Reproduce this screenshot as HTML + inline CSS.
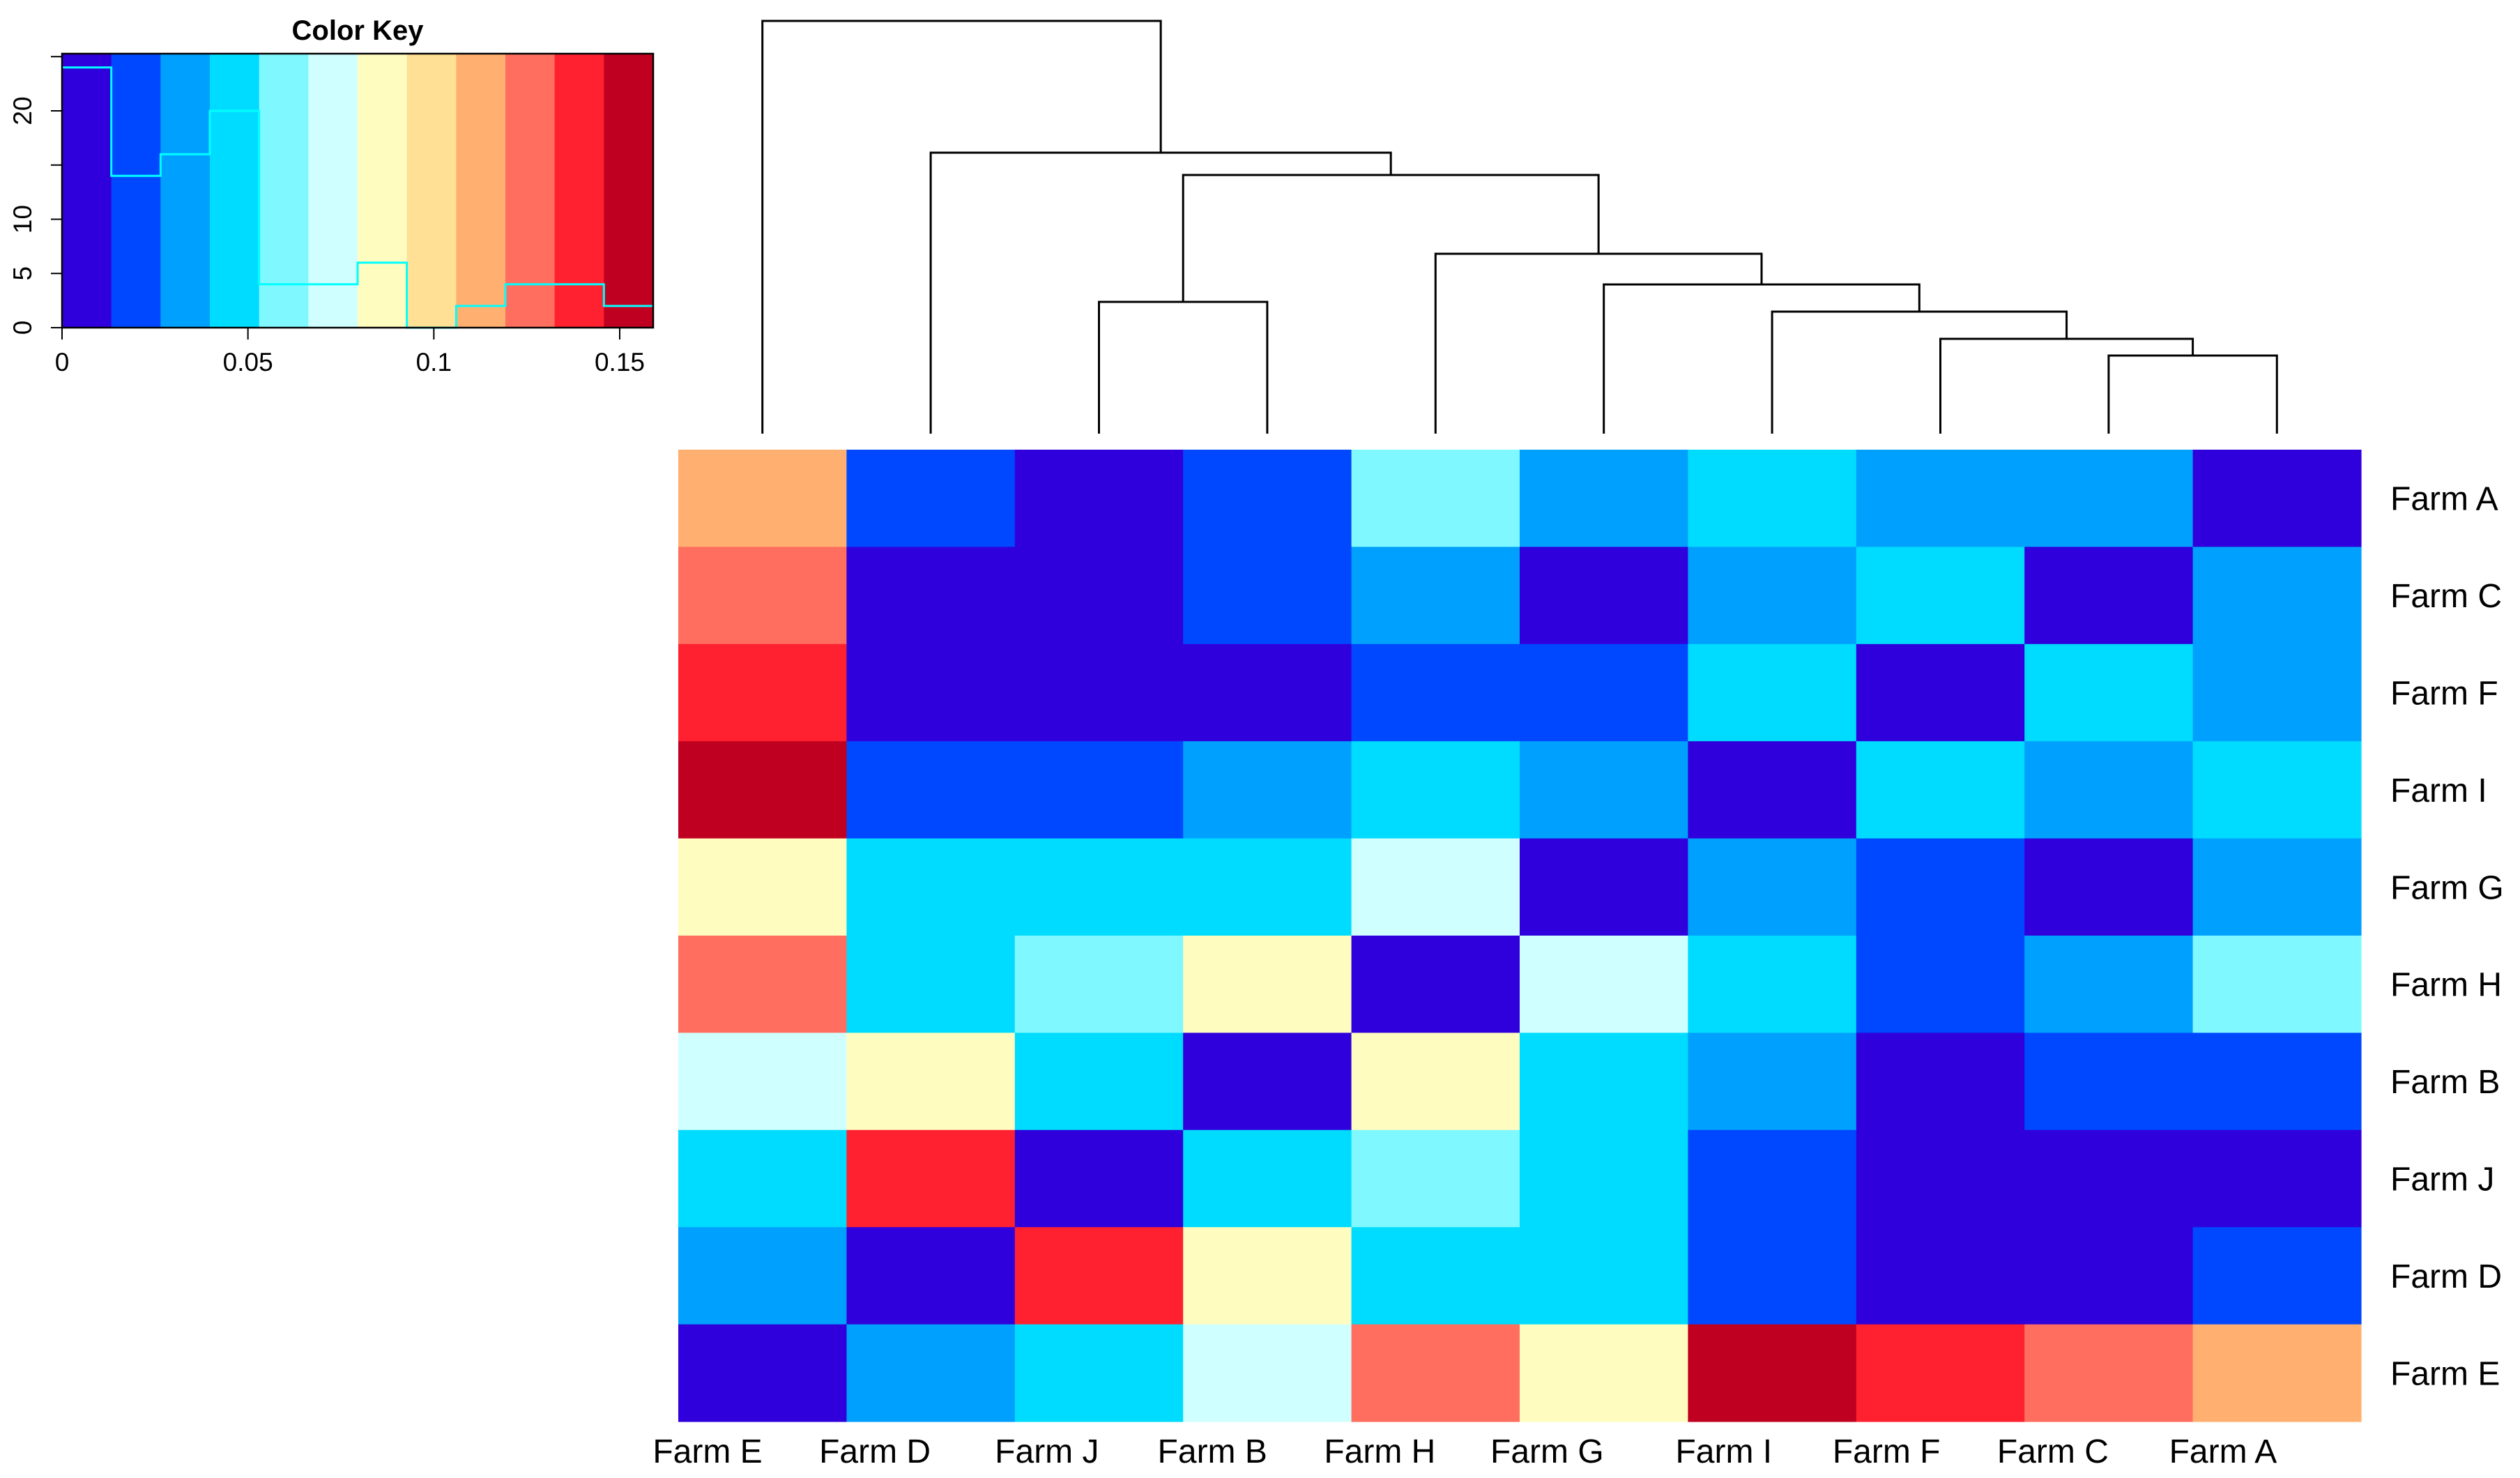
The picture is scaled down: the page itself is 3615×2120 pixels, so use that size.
<!DOCTYPE html>
<html><head><meta charset="utf-8"><style>
html,body{margin:0;padding:0;background:#fff;}
svg{display:block;font-family:"Liberation Sans",Arial,sans-serif;}
</style></head><body>
<svg id="chart" width="3615" height="2120" viewBox="0 0 3615 2120" xmlns="http://www.w3.org/2000/svg">
<g id="key"></g>
<g id="dendro"></g>
<g id="heat"></g>
<g id="labels"></g>
</svg>
<script>
const NS = "http://www.w3.org/2000/svg";
const rowLabels = ["Farm A","Farm C","Farm F","Farm I","Farm G","Farm H","Farm B","Farm J","Farm D","Farm E"];
const colLabels = ["Farm E","Farm D","Farm J","Farm B","Farm H","Farm G","Farm I","Farm F","Farm C","Farm A"];
const palette = ["#3000DC","#0048FF","#00A0FF","#00DCFF","#80F8FF","#D0FFFF","#FFFCC0","#FFE094","#FFB070","#FF6E5E","#FF2030","#C00020"];
const binWidth = 0.01325;
// color bin index per cell (value = midpoint of bin)
const binRows = [
 [8,1,0,1,4,2,3,2,2,0],
 [9,0,0,1,2,0,2,3,0,2],
 [10,0,0,0,1,1,3,0,3,2],
 [11,1,1,2,3,2,0,3,2,3],
 [6,3,3,3,5,0,2,1,0,2],
 [9,3,4,6,0,5,3,1,2,4],
 [5,6,3,0,6,3,2,0,1,1],
 [3,10,0,3,4,3,1,0,0,0],
 [2,0,10,6,3,3,1,0,0,1],
 [0,2,3,5,9,6,11,10,9,8]
];
const values = binRows.map(r => r.map(b => (b + 0.5) * binWidth));
const keyXTicks = [0, 0.05, 0.1, 0.15];
const keyXTickLabels = ["0","0.05","0.1","0.15"];
const keyYTicks = [0,5,10,15,20,25];
const keyYTickLabels = ["0","5","10","","20",""];
// dendrogram merges: [left, right, height]; leaves are column indices, nodes "n0".. in order
const merges = [
 [8,9,0.112],   // n0: C,A
 [7,"n0",0.136],// n1
 [6,"n1",0.175],// n2
 [2,3,0.189],   // n3: J,B
 [5,"n2",0.214],// n4
 [4,"n4",0.258],// n5
 ["n3","n5",0.371],// n6
 [1,"n6",0.403],// n7
 [0,"n7",0.592] // n8 root
];

const HX0 = 973, HY0 = 645, CW = 241.4, RH = 139.4;
function el(tag, attrs, parent){const e=document.createElementNS(NS,tag);for(const k in attrs)e.setAttribute(k,attrs[k]);parent.appendChild(e);return e;}
function colX(i){return HX0 + i*CW;}
function rowY(j){return HY0 + j*RH;}
function colorOf(v){let b=Math.floor(v/binWidth);b=Math.max(0,Math.min(palette.length-1,b));return palette[b];}

// heatmap
const heat = document.getElementById("heat");
values.forEach((row,j)=>row.forEach((v,i)=>{
  const r = el("rect",{x:colX(i),y:rowY(j),width:CW+0.6,height:RH+0.6,fill:colorOf(v)},heat);
  
  
}));

// labels
const labels = document.getElementById("labels");
rowLabels.forEach((t,j)=>{
  const e = el("text",{x:3429,y:rowY(j)+RH/2+17,"font-size":48,fill:"#000"},labels);
  e.textContent=t;
  
  
});
colLabels.forEach((t,i)=>{
  const e = el("text",{x:colX(i)+CW/2,y:2098,"font-size":48,fill:"#000","text-anchor":"end"},labels);
  e.textContent=t;
  
  
});

// dendrogram
const dendro = document.getElementById("dendro");
const LEAF_Y = 622, ROOT_Y = 30, rootH = merges[merges.length-1][2];
function hy(h){return LEAF_Y - (h/rootH)*(LEAF_Y-ROOT_Y);}
const nodes = {};
function pos(n){ if(typeof n==="number") return {x:colX(n)+CW/2,y:LEAF_Y}; return nodes[n]; }
merges.forEach((m,k)=>{
  const a=pos(m[0]), b=pos(m[1]), y=hy(m[2]);
  const p = el("path",{d:`M${a.x},${a.y}V${y}H${b.x}V${b.y}`,fill:"none",stroke:"#000","stroke-width":3},dendro);
  
  
  nodes["n"+k] = {x:(a.x+b.x)/2,y:y};
});

// color key
const key = document.getElementById("key");
const KX0=89, KX1=937, KY0=77, KY1=470;
const kxMax = palette.length*binWidth;
function kx(v){return KX0 + v/kxMax*(KX1-KX0);}
function ky(c){return KY1 - c*15.55;}
palette.forEach((c,b)=>{
  const r = el("rect",{x:kx(b*binWidth),y:KY0,width:(KX1-KX0)/palette.length+0.6,height:KY1-KY0,fill:c},key);
  
  
});
// histogram counts from data
const counts = palette.map(()=>0);
values.forEach(r=>r.forEach(v=>{let b=Math.floor(v/binWidth);b=Math.max(0,Math.min(palette.length-1,b));counts[b]++;}));
let d = `M${kx(0)},${ky(counts[0])}`;
counts.forEach((c,b)=>{ d += `H${kx((b+1)*binWidth)}`; if(b<counts.length-1) d += `V${ky(counts[b+1])}`; });
const hist = el("path",{d:d,fill:"none",stroke:"#00FFFF","stroke-width":3},key);


const box = el("rect",{x:KX0,y:KY0,width:KX1-KX0,height:KY1-KY0,fill:"none",stroke:"#000","stroke-width":2.5},key);


const title = el("text",{x:513,y:57,"font-size":40,"font-weight":"bold","text-anchor":"middle"},key);
title.textContent="Color Key";


keyXTicks.forEach((v,i)=>{
  const x=kx(v);
  const t=el("line",{x1:x,y1:KY1,x2:x,y2:KY1+17,stroke:"#000","stroke-width":2},key);
  
  
  const l=el("text",{x:x,y:532,"font-size":37,"text-anchor":"middle"},key);
  l.textContent=keyXTickLabels[i];
  
  
});
keyYTicks.forEach((v,i)=>{
  const y=ky(v);
  const t=el("line",{x1:KX0-16,y1:y,x2:KX0,y2:y,stroke:"#000","stroke-width":2},key);
  
  
  if(keyYTickLabels[i]){
    const l=el("text",{x:45,y:y,"font-size":37,"text-anchor":"middle",transform:`rotate(-90 45 ${y})`},key);
    l.textContent=keyYTickLabels[i];
    
    
  }
});
</script>
</body></html>
